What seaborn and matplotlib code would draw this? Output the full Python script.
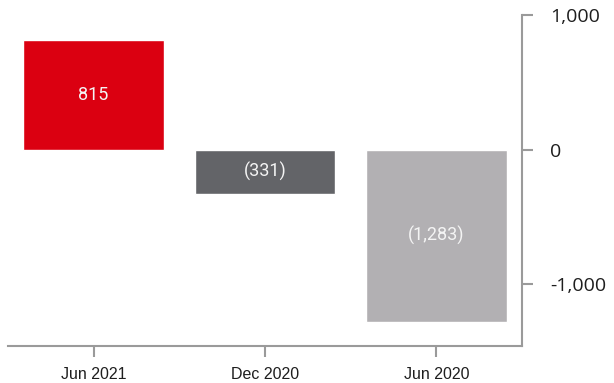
import matplotlib
matplotlib.use("Agg")
import matplotlib.pyplot as plt
import seaborn as sns
import pandas as pd

periods = ["Jun 2021", "Dec 2020", "Jun 2020"]
values = [815, -331, -1283]
bar_colors = ["#DB0011", "#636468", "#B2B0B3"]
y_ticks = [-1000, 0, 1000]
y_tick_labels = ["-1,000", "0", "1,000"]


def fmt_value(v):
    s = f"{abs(v):,}"
    return s if v >= 0 else f"({s})"


sns.set_style("white")
plt.rcParams["font.family"] = ["Liberation Sans", "DejaVu Sans"]

df = pd.DataFrame({"period": periods, "value": values})

fig = plt.figure(figsize=(6.14, 3.83), dpi=100)
ax = fig.add_axes([8 / 614, 1 - 346 / 383, (522 - 8) / 614, (346 - 15) / 383])

sns.barplot(data=df, x="period", y="value", hue="period", palette=bar_colors,
            order=periods, hue_order=periods, width=0.82, legend=False,
            saturation=1, ax=ax)

for cont, v in zip(ax.containers, values):
    ax.bar_label(cont, labels=[fmt_value(v)], label_type="center",
                 color="#F4F4F4", fontsize=13, family="Roboto")

ax.set_xlim(-0.5, 2.5)
ax.set_ylim(-1460, 1000)
ax.set_xlabel("")
ax.set_ylabel("")

spine_color = "#9A9A9A"
for side in ["top", "left"]:
    ax.spines[side].set_visible(False)
for side in ["right", "bottom"]:
    ax.spines[side].set_visible(True)
    ax.spines[side].set_color(spine_color)
    ax.spines[side].set_linewidth(1.5)

ax.yaxis.tick_right()
ax.set_yticks(y_ticks)
ax.set_yticklabels(y_tick_labels, family="Open Sans", fontsize=14, color="#1E1E1E")
ax.tick_params(axis="y", which="major", direction="out", length=8, width=1.5,
               color=spine_color, pad=12, right=True, left=False)
ax.tick_params(axis="x", which="major", direction="out", length=8, width=1.5,
               color=spine_color, pad=7, labelsize=11.5, labelcolor="#1E1E1E",
               bottom=True)

fig.savefig("out.png", dpi=100)
